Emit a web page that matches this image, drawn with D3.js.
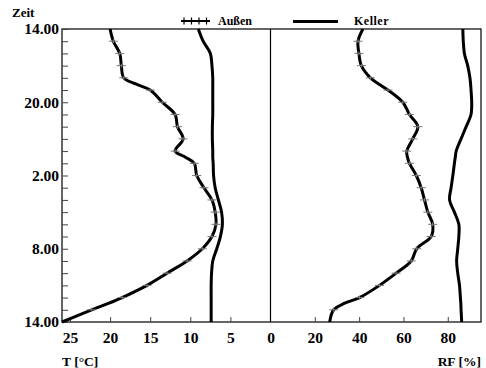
<!DOCTYPE html>
<html>
<head>
<meta charset="utf-8">
<script src="https://cdn.jsdelivr.net/npm/d3@7"></script>
<style>
  body { margin: 0; background: #fff; }
  text { font-family: "Liberation Serif", "DejaVu Serif", serif; font-weight: bold; fill: #000; }
</style>
</head>
<body>
<div id="chart"></div>
<script>
// Stunden ab 14.00 Uhr
var stunden = [0, 1, 2, 3, 4, 4.5, 5, 6, 7, 8, 9, 10, 10.5, 11, 12, 13, 14, 15, 16, 17, 18, 19, 20, 21, 22, 22.5, 23, 24]

var tAussen = [20, 19.6, 18.8, 18.6, 18.3, 16.8, 15, 13.5, 11.9, 11.6, 10.9, 11.9, 10.6, 9.5, 9.2, 8.3, 7.3, 6.9, 6.8, 7.3, 8.5, 10.4, 12.9, 15.4, 18.5, 20.3, 22.3, 26]
var tKeller = [9, 8.4, 7.5, 7.3, 7.2, 7.2, 7.2, 7.2, 7.2, 7.25, 7.25, 7.2, 7.2, 7.15, 7.1, 6.9, 6.5, 6.1, 6.0, 6.25, 6.7, 7.2, 7.35, 7.4, 7.4, 7.4, 7.4, 7.4]

var rfAussen = [41.7, 39.5, 39.9, 41, 45.1, 48.8, 53, 59.7, 62.7, 66.5, 64.2, 61.5, 61.8, 62.7, 65.8, 68, 69.5, 71, 73.2, 72.5, 66, 63.5, 56.7, 49.2, 40.2, 33, 28.5, 26.7]
var rfKeller = [86.8, 87, 87.5, 89, 90, 90.3, 90.5, 90.8, 90.5, 88.3, 86, 83.8, 83.4, 83, 82.3, 81.5, 80.8, 83, 85, 85, 84.5, 84, 84.5, 85.3, 85.7, 85.9, 86, 86.3]

var zeitLabels = ["14.00", "20.00", "2.00", "8.00", "14.00"]
var tTicks = [25, 20, 15, 10, 5]
var rfTicks = [0, 20, 40, 60, 80]

var width = 486, height = 368
var pLeft = 62, pMid = 270.5, pRight = 481, pTop = 29, pBottom = 322

var svg = d3.select("#chart").append("svg")
    .attr("width", width)
    .attr("height", height)

var y = d3.scaleLinear().domain([0, 24]).range([pTop, pBottom])
var xT = d3.scaleLinear().domain([26, 0]).range([pLeft, pMid])
var xRF = d3.scaleLinear().domain([0, 95]).range([pMid, pRight])

// Rahmen
svg.append("rect")
    .attr("x", pLeft).attr("y", pTop)
    .attr("width", pRight - pLeft).attr("height", pBottom - pTop)
    .attr("fill", "none").attr("stroke", "#000").attr("stroke-width", 1.2)

svg.append("line")
    .attr("x1", pMid).attr("x2", pMid).attr("y1", pTop).attr("y2", pBottom)
    .attr("stroke", "#000").attr("stroke-width", 1.2)

// Zeitachse links, Stundenstriche nach innen
var yAxis = svg.append("g")
    .attr("transform", "translate(" + pLeft + ",0)")
    .call(d3.axisLeft(y)
        .tickValues(d3.range(0, 25))
        .tickSizeInner(-6).tickSizeOuter(0)
        .tickPadding(3)
        .tickFormat(function(d) { return d % 6 == 0 ? zeitLabels[d / 6] : "" }))
yAxis.select(".domain").remove()
yAxis.selectAll("line").attr("stroke", "#444")
yAxis.selectAll("text").style("font-size", "15.5px")

// untere Achsen
var axT = svg.append("g")
    .attr("transform", "translate(0," + pBottom + ")")
    .call(d3.axisBottom(xT).tickValues(tTicks).tickSizeInner(-5).tickSizeOuter(0).tickPadding(10))
var axRF = svg.append("g")
    .attr("transform", "translate(0," + pBottom + ")")
    .call(d3.axisBottom(xRF).tickValues(rfTicks).tickSizeInner(-5).tickSizeOuter(0).tickPadding(10))

;[axT, axRF].forEach(function(ax) {
    ax.select(".domain").remove()
    ax.selectAll("line").attr("stroke", "#444")
    ax.selectAll("text").style("font-size", "15.5px")
})
axRF.selectAll(".tick").filter(function(d) { return d == 0 }).select("line").remove()

// Achsentitel
svg.append("text").attr("x", 12).attr("y", 17).style("font-size", "13px").text("Zeit")
svg.append("text").attr("x", 62).attr("y", 366).style("font-size", "13.5px").text("T [°C]")
svg.append("text").attr("x", 481).attr("y", 366).attr("text-anchor", "end").style("font-size", "13.5px").text("RF [%]")

// Kurven
function kurve(xs, werte) {
    var pts = stunden.map(function(h, i) { return [h, werte[i]] })
    var line = d3.line()
        .x(function(d) { return xs(d[1]) })
        .y(function(d) { return y(d[0]) })
        .curve(d3.curveCatmullRom.alpha(0.5))
    svg.append("path")
        .attr("d", line(pts))
        .attr("fill", "none")
        .attr("stroke", "#000")
        .attr("stroke-width", 3)
        .attr("stroke-linejoin", "round")
    return pts
}

// kleine Kreuze auf den Außenkurven, zu jeder vollen Stunde
function marker(xs, pts) {
    var g = svg.append("g").attr("stroke", "#777").attr("stroke-width", 1)
    pts.filter(function(d) { return d[0] % 1 == 0 && d[0] > 0 && d[0] < 24 }).forEach(function(d) {
        var cx = xs(d[1]), cy = y(d[0])
        g.append("line").attr("x1", cx - 4.5).attr("x2", cx + 4.5).attr("y1", cy).attr("y2", cy)
        g.append("line").attr("x1", cx).attr("x2", cx).attr("y1", cy - 2).attr("y2", cy + 2)
    })
}

kurve(xT, tKeller)
kurve(xRF, rfKeller)
marker(xT, kurve(xT, tAussen))
marker(xRF, kurve(xRF, rfAussen))

// Legende
var lg = svg.append("g")
lg.append("line").attr("x1", 181).attr("x2", 210).attr("y1", 21).attr("y2", 21)
    .attr("stroke", "#000").attr("stroke-width", 2)
d3.range(4).forEach(function(i) {
    lg.append("line").attr("x1", 184 + i * 7.5).attr("x2", 184 + i * 7.5).attr("y1", 17.5).attr("y2", 24.5)
        .attr("stroke", "#000").attr("stroke-width", 1.2)
})
lg.append("text").attr("x", 218).attr("y", 25).style("font-size", "12px").text("Außen")
lg.append("line").attr("x1", 293).attr("x2", 338).attr("y1", 21.5).attr("y2", 21.5)
    .attr("stroke", "#000").attr("stroke-width", 3)
lg.append("text").attr("x", 354).attr("y", 25).style("font-size", "12px").style("letter-spacing", "0.5px").text("Keller")
</script>
</body>
</html>
